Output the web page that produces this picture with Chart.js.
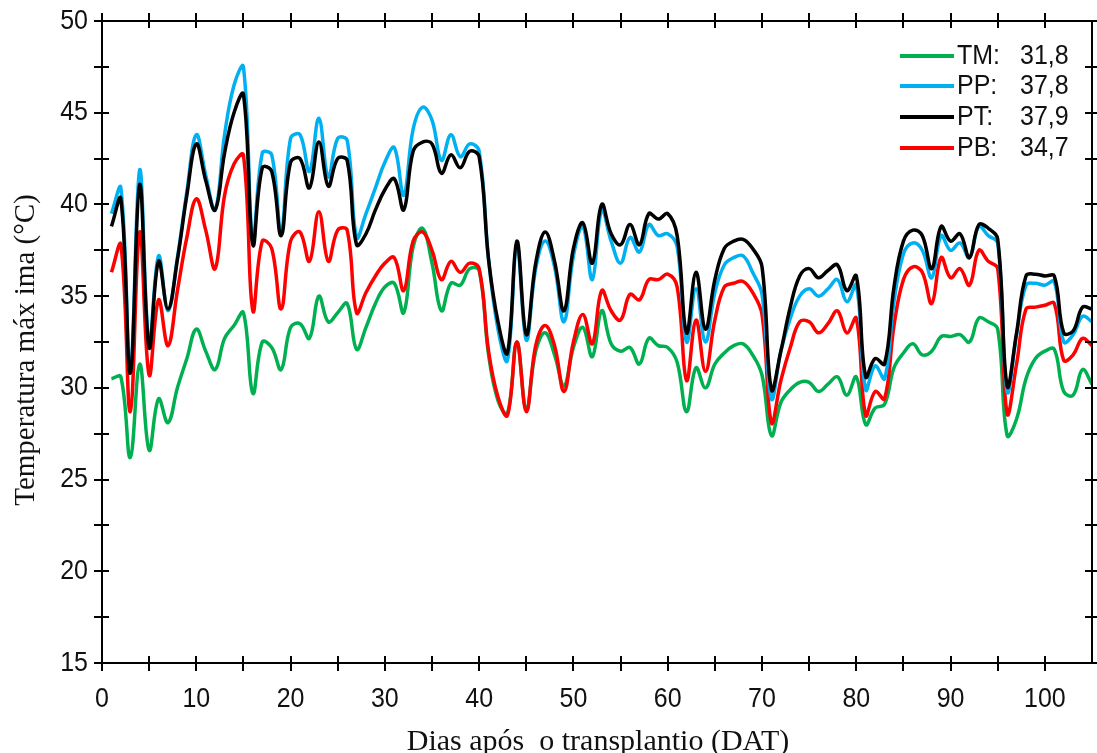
<!DOCTYPE html>
<html>
<head>
<meta charset="utf-8">
<style>
  html, body { margin: 0; padding: 0; background: #fff; overflow: hidden; }
  #wrap { width: 1097px; height: 753px; position: relative; }
</style>
<script src="https://cdn.jsdelivr.net/npm/chart.js@4.4.1/dist/chart.umd.min.js"></script>
</head>
<body>
<div id="wrap"><canvas id="c" width="1097" height="753"></canvas></div>
<script>
// Days after transplanting (DAT)
const days = [1,2,3,4,5,6,7,8,9,10,11,12,13,14,15,16,17,18,19,20,
  21,22,23,24,25,26,27,28,29,30,31,32,33,34,35,36,37,38,39,40,
  41,42,43,44,45,46,47,48,49,50,51,52,53,54,55,56,57,58,59,60,
  61,62,63,64,65,66,67,68,69,70,71,72,73,74,75,76,77,78,79,80,
  81,82,83,84,85,86,87,88,89,90,91,92,93,94,95,96,97,98,99,100,
  101,102,103,104,105];

// Daily maximum temperature (°C) per environment
const tm = [30.5,30.6,26.2,31.3,26.6,29.4,28.1,30.0,31.6,33.2,
  32.0,31.0,32.7,33.4,34.1,29.7,32.5,32.2,31.0,33.3,
  33.5,32.7,35.0,33.6,34.1,34.6,32.1,33.3,34.6,35.5,
  35.7,34.1,37.7,38.7,36.8,34.2,35.7,35.6,36.5,36.4,
  31.8,29.3,28.6,32.5,28.8,32.0,33.0,31.8,30.1,32.2,
  33.3,31.7,34.2,32.4,32.0,32.2,31.3,32.7,32.3,32.2,
  31.4,28.7,31.1,30.0,31.3,31.9,32.3,32.4,31.8,30.7,
  27.4,29.2,29.9,30.3,30.3,29.8,30.2,30.6,29.6,30.6,
  28.0,28.9,29.1,31.1,31.9,32.4,31.8,32.0,32.8,32.8,
  32.9,32.5,33.8,33.6,33.2,27.4,28.3,30.5,31.6,32.0,
  32.1,29.8,29.6,31.0,30.2];

const pp = [39.5,40.9,31.0,41.9,32.4,37.2,34.2,37.1,40.7,43.8,
  41.6,39.7,43.8,46.5,47.5,38.0,42.8,42.7,38.5,43.6,
  43.8,41.8,44.7,41.5,43.6,43.5,38.2,39.5,40.9,42.3,
  43.1,40.5,44.1,45.3,44.6,42.4,43.8,42.6,43.3,42.9,
  37.0,33.2,31.5,37.8,32.6,36.5,38.0,36.6,33.6,37.2,
  38.8,35.9,39.7,38.0,36.8,38.2,37.4,38.9,38.3,38.4,
  37.7,32.5,35.4,32.5,35.2,36.7,37.1,37.2,36.3,35.1,
  29.4,32.0,33.8,35.0,35.4,35.0,35.4,35.9,34.7,35.6,
  29.9,31.2,30.5,34.7,37.3,37.9,37.5,36.0,38.3,37.5,
  37.9,37.1,38.8,38.3,37.9,29.8,32.9,35.6,35.7,35.6,
  35.8,32.5,32.9,33.9,33.6];

const pt = [38.8,40.3,30.8,41.1,32.2,36.9,34.3,37.0,40.5,43.3,
  41.3,39.7,42.8,45.0,46.0,37.8,42.0,41.8,38.3,42.3,
  42.5,40.9,43.4,41.0,42.5,42.4,37.8,38.4,39.7,40.8,
  41.4,39.7,42.9,43.4,43.3,41.7,42.7,42.0,42.9,42.6,
  37.0,33.6,31.9,38.0,32.9,36.8,38.5,36.9,34.2,37.6,
  39.0,36.8,40.0,38.4,37.8,38.9,37.8,39.5,39.2,39.5,
  38.3,33.0,36.3,33.2,35.9,37.6,38.0,38.1,37.6,36.6,
  29.9,32.0,34.4,36.1,36.5,36.0,36.4,36.7,35.3,36.1,
  30.6,31.6,31.3,35.5,38.0,38.6,38.3,36.5,38.8,38.0,
  38.4,37.1,38.9,38.7,38.1,30.1,33.0,36.1,36.2,36.1,
  36.1,33.0,33.1,34.4,34.3];

const pb = [36.3,37.8,28.7,38.5,30.7,34.8,32.3,35.3,38.2,40.3,
  38.6,36.5,40.5,42.2,42.7,34.2,38.0,37.6,34.3,38.0,
  38.5,36.9,39.6,36.9,38.6,38.6,34.1,35.2,36.1,36.8,
  37.1,35.3,38.0,38.5,37.5,35.9,36.9,36.3,36.8,36.5,
  32.0,29.5,28.5,32.5,28.7,32.3,33.4,32.3,29.8,32.5,
  34.0,32.4,35.3,34.2,33.7,35.1,34.8,35.9,35.9,36.2,
  35.5,30.4,33.7,30.9,33.7,35.5,35.7,35.8,35.2,34.0,
  28.1,30.4,32.2,33.6,33.6,33.0,33.5,34.2,33.0,33.8,
  28.5,29.8,29.4,33.4,35.9,36.6,36.3,34.6,37.1,36.0,
  36.5,35.6,37.5,36.9,36.5,28.6,31.3,34.3,34.4,34.5,
  34.6,31.5,31.8,32.7,32.3];

// Legend entries and the period means shown next to them
const seriesNames = ['TM:', 'PP:', 'PT:', 'PB:'];
const seriesMeans = ['31,8', '37,8', '37,9', '34,7'];
const seriesColors = ['#00B050', '#00B0F0', '#000000', '#FF0000'];

// Axis ticks
const xTickValues = [0,10,20,30,40,50,60,70,80,90,100];
const xMinorValues = [5,15,25,35,45,55,65,75,85,95];
const yTickValues = [15,20,25,30,35,40,45,50];
const yMinorValues = [17.5,22.5,27.5,32.5,37.5,42.5,47.5];

const xTitle = 'Dias após  o transplantio (DAT)';
const yTitle = 'Temperatura máx ima (°C)';

const SANS = '"Liberation Sans", Arial, sans-serif';
const SERIF = '"Liberation Serif", "Times New Roman", serif';

function pts(vals) { return days.map((d, i) => ({ x: d, y: vals[i] })); }

function drawText(ctx, s, x, y, font, align, baseline, sy, rot) {
  ctx.save();
  ctx.translate(x, y);
  if (rot) ctx.rotate(rot);
  ctx.scale(1, sy || 1);
  ctx.font = font;
  ctx.textAlign = align;
  ctx.textBaseline = baseline;
  ctx.fillStyle = '#111';
  ctx.fillText(s, 0, 0);
  ctx.restore();
}

// Box frame with crossing tick marks, tick labels, titles and legend
const framePlugin = {
  id: 'frame',
  afterDraw(chart) {
    const { ctx, chartArea: a, scales: { x, y } } = chart;
    ctx.save();
    ctx.strokeStyle = '#000';
    ctx.lineWidth = 2;
    ctx.strokeRect(a.left, a.top, a.right - a.left, a.bottom - a.top);
    const seg = (x1, y1, x2, y2) => { ctx.beginPath(); ctx.moveTo(x1, y1); ctx.lineTo(x2, y2); ctx.stroke(); };
    xTickValues.concat(xMinorValues).forEach(v => {
      const px = Math.round(x.getPixelForValue(v));
      seg(px, a.bottom - 7, px, a.bottom + 8);
      seg(px, a.top - 8, px, a.top + 7);
    });
    yTickValues.concat(yMinorValues).forEach(v => {
      const py = Math.round(y.getPixelForValue(v));
      seg(a.left - 8, py, a.left + 7, py);
      seg(a.right - 7, py, a.right + 8, py);
    });
    ctx.restore();

    const tickFont = '25px ' + SANS;
    xTickValues.forEach(v => {
      drawText(ctx, String(v), x.getPixelForValue(v), 699, tickFont, 'center', 'middle', 1.1);
    });
    yTickValues.forEach(v => {
      drawText(ctx, String(v), 88, y.getPixelForValue(v), tickFont, 'right', 'middle', 1.1);
    });

    drawText(ctx, xTitle, 598, 750, '30px ' + SERIF, 'center', 'alphabetic', 1);
    drawText(ctx, yTitle, 34, 350, '29px ' + SERIF, 'center', 'alphabetic', 1, -Math.PI / 2);

    // legend
    const rows = [56, 86, 117, 148];
    seriesNames.forEach((name, i) => {
      ctx.save();
      ctx.strokeStyle = seriesColors[i];
      ctx.lineWidth = 4;
      seg(900, rows[i], 954, rows[i]);
      ctx.restore();
      drawText(ctx, name, 957, rows[i], '25px ' + SANS, 'left', 'middle', 1.12);
      drawText(ctx, seriesMeans[i], 1020, rows[i], '25px ' + SANS, 'left', 'middle', 1.12);
    });
  }
};

const ds = (label, vals, color, order) => ({
  label, data: pts(vals), borderColor: color, backgroundColor: color,
  borderWidth: 3.5, pointRadius: 0, tension: 0.4, fill: false, order
});

new Chart(document.getElementById('c').getContext('2d'), {
  type: 'line',
  data: {
    datasets: [
      ds('TM', tm, seriesColors[0], 3),
      ds('PP', pp, seriesColors[1], 1),
      ds('PT', pt, seriesColors[2], 0),
      ds('PB', pb, seriesColors[3], 2)
    ]
  },
  options: {
    responsive: false,
    animation: false,
    devicePixelRatio: 1,
    layout: { padding: { top: 21, right: 5, left: 0, bottom: 0 } },
    plugins: { legend: { display: false }, tooltip: { enabled: false } },
    scales: {
      x: {
        type: 'linear', min: 0, max: 105,
        grid: { display: false, drawTicks: false },
        border: { display: false },
        ticks: { display: false },
        afterBuildTicks: s => { s.ticks = xTickValues.map(v => ({ value: v })); },
        afterFit: s => { s.height = 90; }
      },
      y: {
        type: 'linear', min: 15, max: 50,
        grid: { display: false, drawTicks: false },
        border: { display: false },
        ticks: { display: false },
        afterBuildTicks: s => { s.ticks = yTickValues.map(v => ({ value: v })); },
        afterFit: s => { s.width = 102; }
      }
    }
  },
  plugins: [framePlugin]
});
</script>
</body>
</html>
